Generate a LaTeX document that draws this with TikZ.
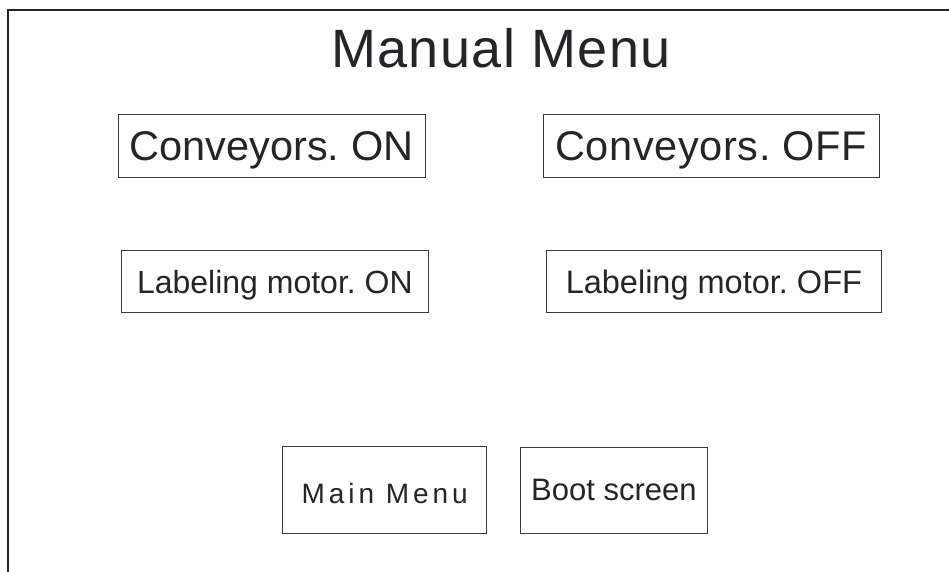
\documentclass[tikz,border=0pt]{standalone}
\usepackage{fontspec}
\setmainfont{Liberation Sans}
\frenchspacing
\definecolor{ink}{HTML}{232528}
\definecolor{edge}{HTML}{3A3A3A}
\tikzset{
  btn/.style={draw=edge, line width=1pt, rectangle, inner sep=0pt, align=center,
              text=ink, text depth=0pt},
  frameline/.style={draw=ink, line width=1.3pt},
}
\begin{document}
\begin{tikzpicture}[x=1pt,y=-1pt]
  \useasboundingbox (0,0) rectangle (949,572);
  % screen outline (partly cut off)
  \draw[frameline] (8,572) -- (8,10) -- (949,10);
  % title
  \node[anchor=base, text=ink, inner sep=0pt,
        font=\addfontfeature{LetterSpace=2.5}\fontsize{54}{60}\selectfont]
        (title) at (501,68) {Manual Menu};
  % conveyor buttons
  \node[btn, minimum width=307pt, minimum height=62pt, text height=29.5pt,
        font=\fontsize{41.5}{48}\selectfont] (convOn) at (271.5,146) {Conveyors. ON};
  \node[btn, minimum width=335.7pt, minimum height=62pt, text height=29.5pt,
        font=\addfontfeature{LetterSpace=1.5}\fontsize{41.5}{48}\selectfont] (convOff) at (711.2,146) {Conveyors. OFF};
  % labeling motor buttons
  \node[btn, minimum width=306.3pt, minimum height=62pt, text height=25pt,
        font=\fontsize{32}{38}\selectfont] (labOn) at (274.9,281) {Labeling motor. ON};
  \node[btn, minimum width=334.3pt, minimum height=62pt, text height=25pt,
        font=\fontsize{32.5}{38}\selectfont] (labOff) at (713.9,281) {Labeling motor. OFF};
  % navigation buttons
  \node[btn, minimum width=204pt, minimum height=86.3pt, text height=26pt,
        font=\addfontfeature{LetterSpace=14}\fontsize{28}{34}\selectfont] (mainMenu) at (384.7,490) {Main Menu};
  \node[btn, minimum width=187.7pt, minimum height=86pt, text height=20pt,
        font=\fontsize{31}{36}\selectfont] (boot) at (613.9,490) {Boot screen};
\end{tikzpicture}
\end{document}
